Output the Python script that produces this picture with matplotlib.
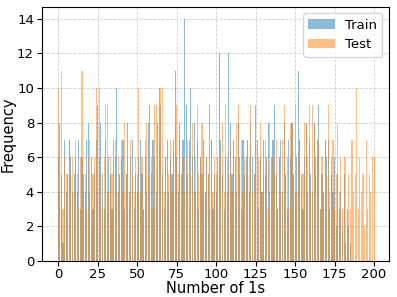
import numpy as np
import matplotlib
matplotlib.use("Agg")
import matplotlib.pyplot as plt

# counts per "number of 1s" value (train: 0..185, test: 0..200)
train_counts = [
    6, 8, 5, 1, 7, 4, 5, 7, 6, 4,
    5, 6, 4, 7, 3, 6, 5, 4, 7, 8,
    4, 6, 3, 5, 7, 9, 6, 8, 5, 3,
    7, 4, 6, 5, 3, 7, 6, 10, 4, 5,
    6, 7, 3, 5, 8, 4, 6, 7, 3, 5,
    4, 6, 7, 5, 3, 6, 4, 8, 9, 5,
    7, 6, 4, 8, 10, 9, 5, 3, 6, 7,
    4, 6, 5, 7, 11, 6, 4, 8, 5, 7,
    14, 9, 5, 7, 10, 6, 8, 4, 7, 3,
    6, 5, 7, 4, 6, 5, 9, 7, 3, 5,
    4, 6, 12, 7, 5, 3, 6, 4, 12, 8,
    5, 7, 6, 4, 8, 6, 3, 7, 5, 6,
    7, 4, 8, 6, 5, 9, 7, 3, 6, 4,
    7, 5, 6, 8, 4, 6, 7, 9, 5, 3,
    6, 7, 4, 8, 5, 3, 7, 6, 8, 5,
    4, 6, 11, 7, 5, 3, 6, 8, 4, 7,
    5, 4, 8, 6, 7, 9, 3, 5, 4, 7,
    6, 7, 3, 5, 4, 6, 2, 5, 3, 4,
    2, 5, 1, 3, 2, 1,
]
test_counts = [
    10, 4, 11, 3, 6, 5, 4, 7, 5, 6,
    4, 7, 5, 3, 6, 11, 4, 5, 3, 6,
    7, 2, 5, 6, 10, 4, 10, 5, 3, 6,
    9, 9, 4, 6, 5, 3, 7, 4, 6, 5,
    7, 4, 8, 5, 6, 3, 7, 5, 4, 6,
    5, 10, 4, 6, 3, 7, 8, 5, 4, 6,
    3, 9, 9, 5, 7, 10, 10, 4, 6, 3,
    5, 7, 4, 6, 8, 9, 5, 7, 3, 6,
    4, 6, 7, 3, 5, 8, 4, 6, 9, 5,
    6, 8, 4, 4, 6, 5, 3, 7, 4, 6,
    5, 3, 7, 6, 8, 4, 9, 6, 5, 7,
    4, 6, 3, 8, 9, 5, 7, 4, 6, 5,
    7, 6, 9, 4, 5, 7, 3, 6, 8, 4,
    5, 7, 6, 3, 8, 4, 6, 5, 7, 3,
    6, 4, 7, 9, 5, 6, 3, 8, 8, 5,
    9, 4, 6, 7, 3, 5, 8, 8, 6, 9,
    4, 9, 8, 5, 6, 7, 3, 6, 4, 7,
    5, 9, 4, 6, 7, 3, 5, 8, 4, 6,
    3, 6, 6, 2, 5, 3, 7, 4, 5, 10,
    3, 6, 4, 5, 2, 7, 3, 5, 4, 6,
    6,
]

train_vals = np.arange(len(train_counts))
test_vals = np.arange(len(test_counts))
bins = np.arange(0, 202)

fig, ax = plt.subplots(figsize=(3.97, 2.97), dpi=100)
fig.subplots_adjust(left=0.105, right=0.98, bottom=0.122, top=0.977)

ax.hist(train_vals, bins=bins, weights=train_counts, rwidth=0.7,
        alpha=0.5, color="tab:blue", label="Train", align="left")
ax.hist(test_vals, bins=bins, weights=test_counts, rwidth=0.7,
        alpha=0.5, color="tab:orange", label="Test", align="left")

ax.set_xlim(-10.5, 209.5)
ax.set_ylim(0, 14.7)
ax.set_xticks(np.arange(0, 201, 25))
ax.set_yticks(np.arange(0, 15, 2))
ax.tick_params(labelsize=9.5, pad=2)
ax.set_xlabel("Number of 1s", fontsize=10.5, labelpad=0)
ax.set_ylabel("Frequency", fontsize=10.5, labelpad=1)
ax.grid(True, linestyle="--", linewidth=0.6, alpha=0.6)
ax.set_axisbelow(True)
ax.legend(loc="upper right", fontsize=9.5)

fig.savefig("out.png", dpi=100)
